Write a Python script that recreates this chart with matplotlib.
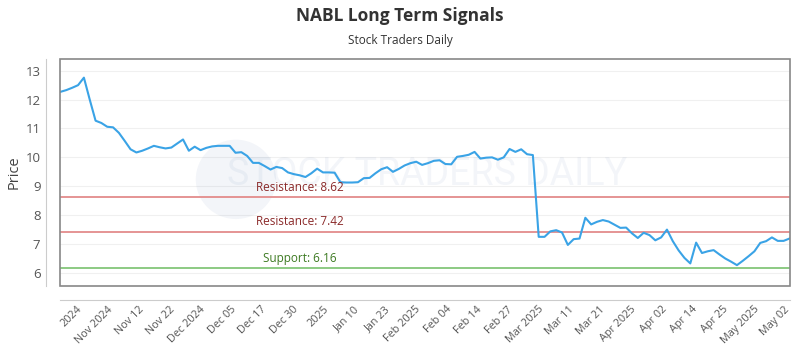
import matplotlib.pyplot as plt
from matplotlib.patches import Rectangle, Ellipse
import numpy as np

plt.rcParams['font.family'] = ['Open Sans', 'DejaVu Sans']

# Daily closing prices (trading days, left to right)
prices = [
    12.27, 12.33, 12.41, 12.50, 12.76, 12.00, 11.27, 11.19, 11.06, 11.04,
    10.85, 10.57, 10.28, 10.17, 10.23, 10.31, 10.40, 10.35, 10.31, 10.34,
    10.48, 10.62, 10.23, 10.37, 10.25, 10.33, 10.38, 10.40, 10.40, 10.40,
    10.16, 10.18, 10.05, 9.81, 9.81, 9.70, 9.58, 9.67, 9.63, 9.48,
    9.42, 9.38, 9.32, 9.45, 9.61, 9.48, 9.48, 9.47, 9.14, 9.13,
    9.13, 9.14, 9.28, 9.29, 9.45, 9.59, 9.66, 9.50, 9.60, 9.72,
    9.80, 9.85, 9.74, 9.80, 9.88, 9.90, 9.77, 9.76, 10.02, 10.05,
    10.09, 10.19, 9.96, 9.99, 10.00, 9.92, 10.00, 10.29, 10.19, 10.28,
    10.11, 10.08, 7.25, 7.25, 7.44, 7.48, 7.40, 6.97, 7.17, 7.19,
    7.91, 7.68, 7.77, 7.83, 7.78, 7.67, 7.56, 7.57, 7.37, 7.21,
    7.39, 7.31, 7.13, 7.23, 7.50, 7.10, 6.78, 6.52, 6.33, 7.05,
    6.69, 6.75, 6.79, 6.64, 6.50, 6.39, 6.27, 6.42, 6.58, 6.75,
    7.04, 7.10, 7.23, 7.11, 7.11, 7.19,
]

tick_labels = [
    '2024', 'Nov 2024', 'Nov 12', 'Nov 22', 'Dec 2024', 'Dec 05', 'Dec 17',
    'Dec 30', '2025', 'Jan 10', 'Jan 23', 'Feb 2025', 'Feb 04', 'Feb 14',
    'Feb 27', 'Mar 2025', 'Mar 11', 'Mar 21', 'Apr 2025', 'Apr 02', 'Apr 14',
    'Apr 25', 'May 2025', 'May 02',
]

resistance_levels = [8.62, 7.42]
support_levels = [6.16]

x = np.arange(len(prices))

fig = plt.figure(figsize=(8, 3.5), dpi=100)
ax = fig.add_axes([0.075, 0.183, 0.9125, 0.648])

# spines first: moving them resets the tick objects
for s in ['top', 'right']:
    ax.spines[s].set_visible(False)
ax.spines['left'].set_position(('outward', 10))
ax.spines['bottom'].set_position(('outward', 10))
ax.spines['left'].set_color('#cccccc')
ax.spines['bottom'].set_color('#cccccc')

# Watermark
ax.text(0.503, 0.49, 'STOCK TRADERS DAILY', transform=ax.transAxes,
        fontsize=27, color='#5577aa', alpha=0.07, ha='center', va='center',
        family=['Roboto', 'DejaVu Sans'])
ax.add_patch(Ellipse((0.241, 0.47), 0.11, 0.35, transform=ax.transAxes,
                     facecolor='#5577aa', alpha=0.07, edgecolor='none'))

ax.plot(x, prices, color='#3aa3e6', linewidth=1.5, zorder=3)

for lvl in resistance_levels:
    ax.axhline(lvl, color='#e38b8b', linewidth=1.3, zorder=2)
    ax.text(41, lvl + 0.12, f'Resistance: {lvl:.2f}', color='#8b2a2a',
            fontsize=8.5, ha='center', va='bottom')
for lvl in support_levels:
    ax.axhline(lvl, color='#84c67a', linewidth=1.3, zorder=2)
    ax.text(41, lvl + 0.12, f'Support: {lvl:.2f}', color='#3d7a22',
            fontsize=8.5, ha='center', va='bottom')

ax.set_xlim(-0.1, len(prices) - 0.9)
ax.set_ylim(5.55, 13.4)
ax.set_yticks(range(6, 14))
ax.grid(axis='y', color='#f0f0f0', linewidth=0.8)
ax.set_axisbelow(True)

ticks = np.linspace(2.8, 124.1, len(tick_labels))
ax.set_xticks(ticks)
ax.set_xticklabels(tick_labels, rotation=45, ha='right',
                   rotation_mode='anchor')
ax.tick_params(axis='x', length=0, labelsize=7.8, colors='#555555', pad=3)
ax.tick_params(axis='y', length=0, labelsize=9.5, colors='#555555', pad=4)

ax.add_patch(Rectangle((0, 0), 1, 1, transform=ax.transAxes, fill=False,
                       edgecolor='#888888', linewidth=1.2, clip_on=False,
                       zorder=4))

ax.set_ylabel('Price', fontsize=10.5, color='#444444', labelpad=3)

fig.text(0.5, 0.955, 'NABL Long Term Signals', ha='center', va='center',
         fontsize=12.5, fontweight='bold', color='#333333')
fig.text(0.5, 0.885, 'Stock Traders Daily', ha='center', va='center',
         fontsize=8.5, color='#333333')

fig.savefig('out.png', dpi=100)
